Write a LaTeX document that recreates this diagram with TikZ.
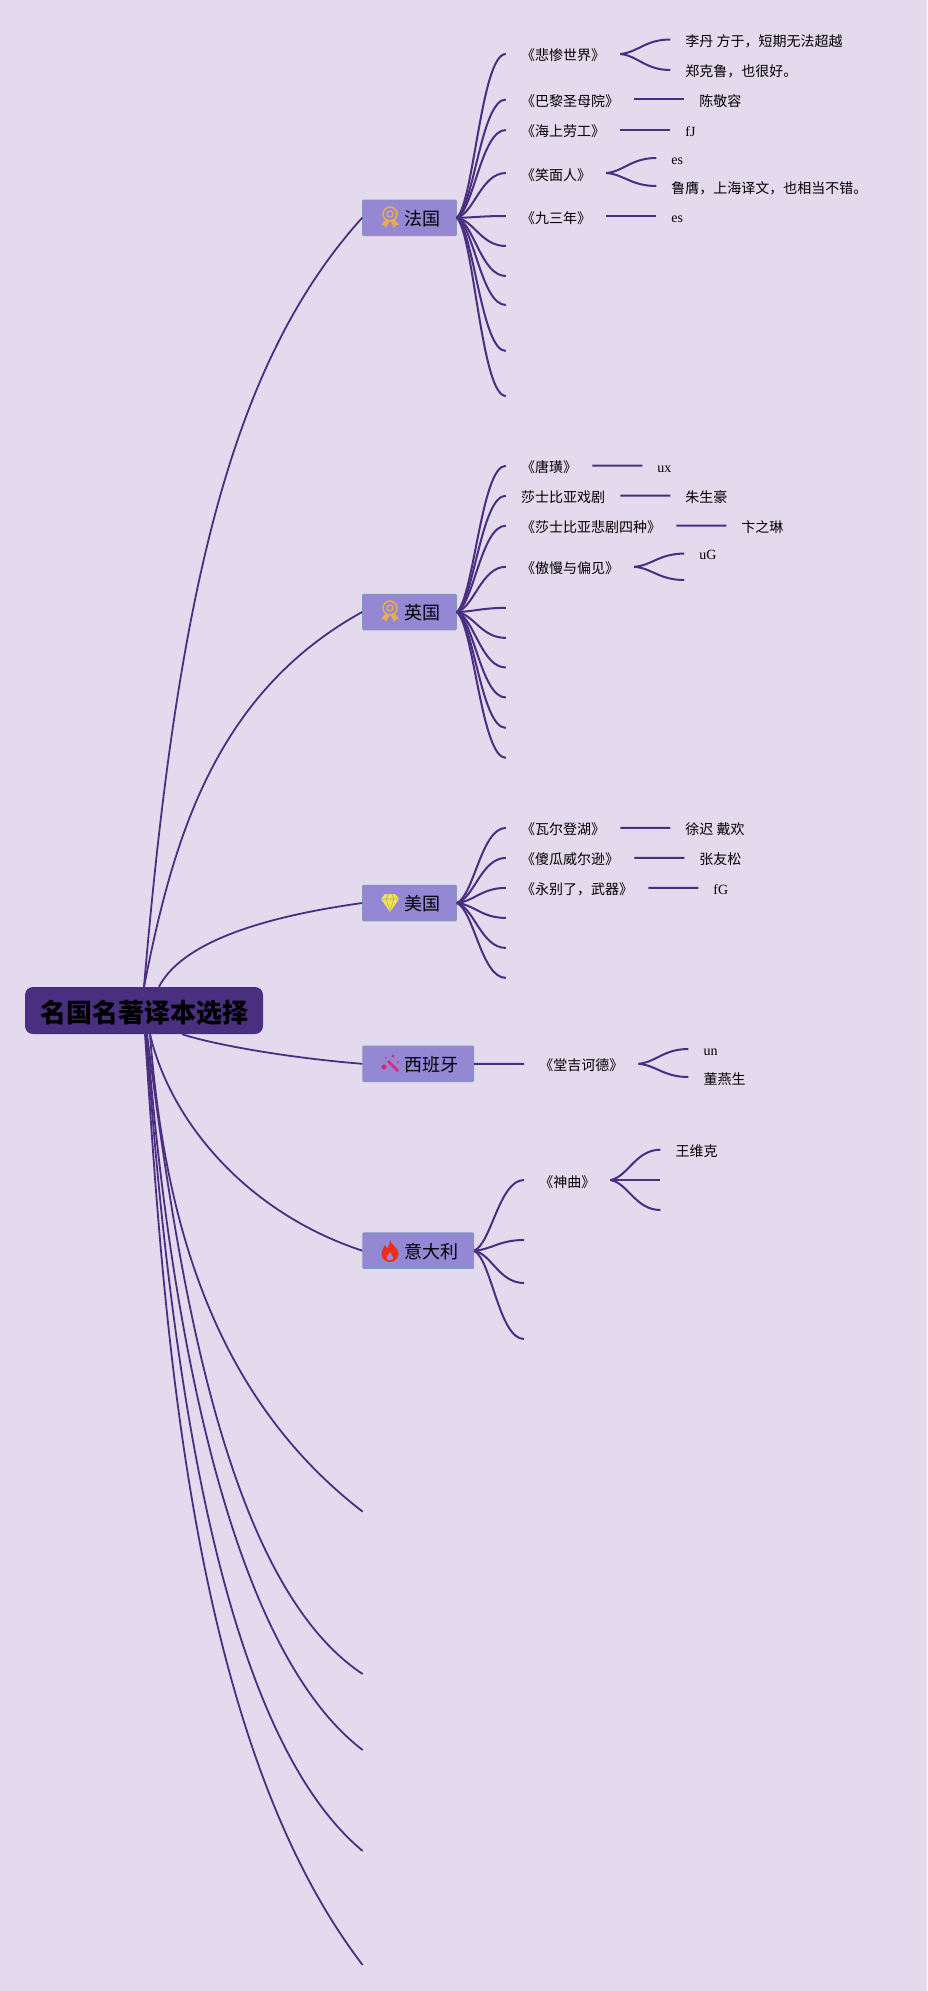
\documentclass[tikz,border=0pt]{standalone}
\usepackage{fontspec}
\setmainfont{Liberation Serif}
\newfontfamily\cjk{Noto Sans CJK SC}
\usetikzlibrary{calc}
\definecolor{paper}{HTML}{E4DAEE}
\definecolor{ink}{HTML}{4A2F80}
\definecolor{topicfill}{HTML}{9488D4}
\definecolor{topicedge}{HTML}{7F9AB8}
\definecolor{medalc}{HTML}{E8AC50}
\definecolor{gemc}{HTML}{EFE44A}
\definecolor{wandc}{HTML}{DC2A78}
\definecolor{flamec}{HTML}{F02C14}
\tikzset{
    branch/.style={draw=ink,line width=2pt},
    limb/.style={draw=ink,line width=1.8pt},
    rootbox/.style={fill=ink,rounded corners=8pt,minimum width=238pt,minimum height=47pt,inner sep=0pt,text height=25pt,text depth=1pt,font=\cjk\bfseries\fontsize{26}{30}\selectfont},
    topicbox/.style={fill=topicfill,draw=topicedge,line width=.9pt,rounded corners=1pt,minimum height=35.6pt,inner sep=0pt,text height=16.2pt,text depth=1pt,font=\cjk\fontsize{18}{20}\selectfont},
    booktext/.style={anchor=west,inner sep=0pt,text height=13.4pt,text depth=1.4pt,font=\cjk\fontsize{14}{16}\selectfont},
    pics/medal/.style={code={
        \draw[medalc,line width=1.6pt] (0,-3) circle (7);
        \draw[medalc,line width=1.3pt] (0,-3) circle (3);
        \fill[medalc] (-4,2) -- (-9,8) -- (-6,8) -- (-4,11) -- (-1,5) -- cycle;
        \fill[medalc] (4,2) -- (9,8) -- (6,8) -- (4,11) -- (1,5) -- cycle;
    }},
    pics/gem/.style={code={
        \fill[gemc] (-5,-9) -- (5,-9) -- (9,-4) -- (0,9) -- (-9,-4) -- cycle;
        \draw[topicfill!70!gemc,line width=.6pt] (-9,-4) -- (9,-4) (-4,-4) -- (0,8) -- (4,-4) (-4,-4) -- (-2,-9) (4,-4) -- (2,-9);
    }},
    pics/wand/.style={code={
        \draw[wandc,line width=2.6pt] (-2,-3) -- (8,7);
        \fill[wandc] (-6,3) circle (2.6) (3,-8) circle (1.7) (8,-2) circle (1.1) (-4,-6) circle (.9);
    }},
    pics/flame/.style={code={
        \fill[flamec,even odd rule] (0,-11) .. controls (1,-6) and (9,-3) .. (8.5,3) .. controls (8,8) and (4,11) .. (0,11) .. controls (-4,11) and (-8.5,8) .. (-8.5,3) .. controls (-8.5,-1) and (-6,-3) .. (-5,-6) .. controls (-4,-4) and (-3.5,-3) .. (-2.5,-3) .. controls (-1,-5) and (0,-8) .. (0,-11) -- cycle
        (0,1) .. controls (-2,4) and (-4,5) .. (-3.5,7.5) .. controls (-3,10) and (3,10) .. (3.5,7.5) .. controls (4,5) and (1.5,4) .. (0,1) -- cycle;
    }},
}
\newcommand{\lat}[1]{\raisebox{.7pt}{\rmfamily #1}}
% curve from a start to a new end coordinate
\newcommand{\stub}[4][50]{%
    \path (#2) ++(#1,0) coordinate (tmpx);
    \coordinate (#3) at (tmpx |- 0,#4);
    \path ($(#2)!.35!(#3)$) coordinate (tmpa) ($(#2)!.1!(#3)$) coordinate (tmpb);
    \draw[branch] (#2) .. controls (tmpb -| tmpa) and ($(#2 |- #3)!.5!(#3)$) .. (#3);
}
% same, with a text behind the end
\newcommand{\twig}[5][50]{%
    \stub[#1]{#2}{#3}{#4}
    \node[booktext] (#3t) at ([xshift=15pt,yshift=-1pt]#3) {#5};
    \coordinate (#3o) at ([xshift=15pt,yshift=1pt]#3t.east);
}
\begin{document}
\begin{tikzpicture}[x=1pt,y=-1pt]
\fill[paper] (0,0) rectangle (927,1991);
\useasboundingbox (0,0) rectangle (927,1991);
\node[rootbox] (root) at (144,1010.5) {名国名著译本选择};
\node[topicbox,minimum width=93.8pt] (fabox) at (409.5,217.8) {\hspace*{26pt}法国};
\node[topicbox,minimum width=93.8pt] (enbox) at (409.5,612) {\hspace*{26pt}英国};
\node[topicbox,minimum width=93.8pt] (usbox) at (409.5,903) {\hspace*{26pt}美国};
\node[topicbox,minimum width=110.8pt] (esbox) at (418.2,1063.8) {\hspace*{26pt}西班牙};
\node[topicbox,minimum width=110.8pt] (itbox) at (418.2,1250.7) {\hspace*{26pt}意大利};
\pic at (390,217) {medal};
\pic at (390,611) {medal};
\pic at (390,903) {gem};
\pic at (390,1064) {wand};
\pic at (390,1251) {flame};
% root limbs
\coordinate (loose1) at (362.7,1511.7);
\coordinate (loose2) at (362.7,1674);
\coordinate (loose3) at (362.7,1750);
\coordinate (loose4) at (362.7,1851);
\coordinate (loose5) at (362.7,1965);
\draw[limb] (root.north) .. controls (178,586) and (233,361) .. (fabox.west);
\draw[limb] (root.north) .. controls (172,845) and (212,695) .. (enbox.west);
\draw[limb] ([xshift=15pt]root.north) .. controls (178,950) and (240,920) .. (usbox.west);
\draw[limb] ([xshift=38pt]root.south) .. controls (215,1045) and (290,1058) .. (esbox.west);
\draw[limb] ([xshift=6pt]root.south) .. controls (170,1120) and (245,1212) .. (itbox.west);
\draw[limb] ([xshift=6pt]root.south) .. controls (165,1230) and (218,1400) .. (loose1);
\draw[limb] ([xshift=3pt]root.south) .. controls (175,1250) and (220,1580) .. (loose2);
\draw[limb] ([xshift=3pt]root.south) .. controls (165,1270) and (218,1640) .. (loose3);
\draw[limb] ([xshift=2pt]root.south) .. controls (165,1290) and (205,1720) .. (loose4);
\draw[limb] ([xshift=1pt]root.south) .. controls (163,1300) and (186,1735) .. (loose5);
% France
\twig[49]{fabox.east}{fa1}{54}{《悲惨世界》}
\twig[49]{fabox.east}{fa2}{99.5}{《巴黎圣母院》}
\twig[49]{fabox.east}{fa3}{130}{《海上劳工》}
\twig[49]{fabox.east}{fa4}{173}{《笑面人》}
\twig[49]{fabox.east}{fa5}{216}{《九三年》}
\foreach \i/\y in {6/246,7/276,8/305,9/351,10/396} {
    \stub[49]{fabox.east}{fa\i}{\y}
}
\twig{fa1o}{fa1a}{39.5}{李丹 方于，短期无法超越}
\twig{fa1o}{fa1b}{70}{郑克鲁，也很好。}
\twig{fa2o}{fa2a}{99.5}{陈敬容}
\twig{fa3o}{fa3a}{130}{\lat{fJ}}
\twig{fa4o}{fa4a}{158}{\lat{es}}
\twig{fa4o}{fa4b}{186}{鲁膺，上海译文，也相当不错。}
\twig{fa5o}{fa5a}{216}{\lat{es}}
% England
\twig[49]{enbox.east}{en1}{465.7}{《唐璜》}
\twig[49]{enbox.east}{en2}{495.7}{莎士比亚戏剧}
\twig[49]{enbox.east}{en3}{525.7}{《莎士比亚悲剧四种》}
\twig[49]{enbox.east}{en4}{566.8}{《傲慢与偏见》}
\foreach \i/\y in {5/607.9,6/637.9,7/667.5,8/697.5,9/727.9,10/757.9} {
    \stub[49]{enbox.east}{en\i}{\y}
}
\twig{en1o}{en1a}{465.7}{\lat{ux}}
\twig{en2o}{en2a}{495.7}{朱生豪}
\twig{en3o}{en3a}{525.7}{卞之琳}
\twig{en4o}{en4a}{553.6}{\lat{uG}}
\stub{en4o}{en4b}{580}
% America
\twig[49]{usbox.east}{us1}{827.9}{《瓦尔登湖》}
\twig[49]{usbox.east}{us2}{857.9}{《傻瓜威尔逊》}
\twig[49]{usbox.east}{us3}{887.9}{《永别了，武器》}
\foreach \i/\y in {4/917.9,5/947.9,6/977.9} {
    \stub[49]{usbox.east}{us\i}{\y}
}
\twig{us1o}{us1a}{827.9}{徐迟 戴欢}
\twig{us2o}{us2a}{857.9}{张友松}
\twig{us3o}{us3a}{887.9}{\lat{fG}}
% Spain
\twig{esbox.east}{es1}{1063.8}{《堂吉诃德》}
\twig{es1o}{es1a}{1049}{\lat{un}}
\twig{es1o}{es1b}{1077}{董燕生}
% Italy
\twig{itbox.east}{it1}{1180}{《神曲》}
\foreach \i/\y in {2/1240,3/1283,4/1339} {
    \stub{itbox.east}{it\i}{\y}
}
\twig{it1o}{it1a}{1149.7}{王维克}
\stub{it1o}{it1b}{1180}
\stub{it1o}{it1c}{1210}
\end{tikzpicture}
\end{document}
